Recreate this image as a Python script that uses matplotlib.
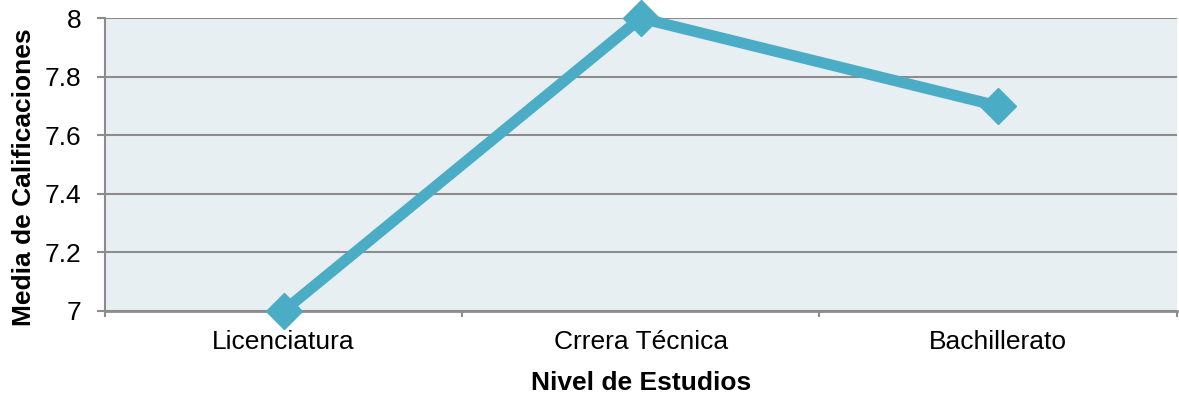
import matplotlib.pyplot as plt

plt.rcParams['font.family'] = ['Liberation Sans', 'DejaVu Sans']

# Datos
niveles = ['Licenciatura', 'Crrera Técnica', 'Bachillerato']
medias = [7.0, 8.0, 7.7]
yticks = [7, 7.2, 7.4, 7.6, 7.8, 8]
ylabels = ['7', '7.2', '7.4', '7.6', '7.8', '8']

fig = plt.figure(figsize=(11.79, 3.94), dpi=100)
ax = fig.add_axes([0.089, 0.2107, 0.909, 0.7433])
ax.set_facecolor('#E8EFF3')

x = range(len(niveles))
ax.plot(x, medias, color='#4BACC6', linewidth=8, marker='D', markersize=18,
        solid_joinstyle='miter', zorder=3, clip_on=False)

ax.set_xlim(-0.5, 2.5)
ax.set_ylim(7, 8)
ax.set_yticks(yticks)
ax.set_yticklabels(ylabels, fontsize=19)
ax.set_xticks(x)
ax.set_xticklabels(niveles, fontsize=19)
ax.set_xticks([-0.5, 0.5, 1.5, 2.5], minor=True)
ax.tick_params(axis='x', which='major', length=0, pad=14)
ax.tick_params(axis='x', which='minor', length=4.5, width=1.5, color='#8C8C8C')
ax.tick_params(axis='y', length=6, width=1.5, color='#8C8C8C', pad=11)

ax.grid(axis='y', color='#8C8C8C', linewidth=1.5, zorder=1)
ax.set_axisbelow(True)
for s in ['top', 'right']:
    ax.spines[s].set_visible(False)
ax.spines['left'].set_color('#8C8C8C')
ax.spines['left'].set_linewidth(1.5)
ax.spines['bottom'].set_color('#8C8C8C')
ax.spines['bottom'].set_linewidth(2)

ax.set_xlabel('Nivel de Estudios', fontsize=19, fontweight='bold', labelpad=12)
ax.set_ylabel('Media de Calificaciones', fontsize=19, fontweight='bold')
ax.yaxis.set_label_coords(-0.064, 0.457)

fig.savefig('out.png', dpi=100)
